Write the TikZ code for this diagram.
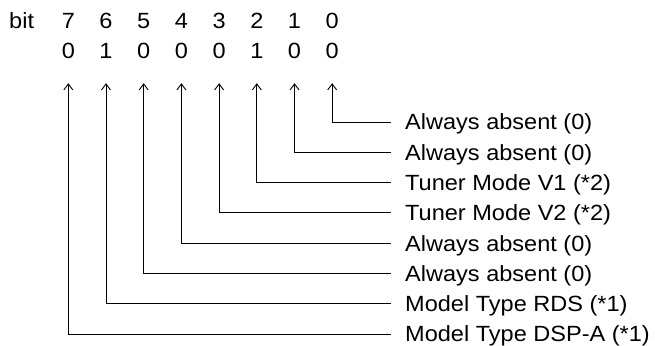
\documentclass[tikz,border=0pt]{standalone}
\usepackage{fontspec}
\setmainfont{Liberation Sans}[FakeStretch=1.07]
\usetikzlibrary{arrows.meta}
\tikzset{
  digit/.style={font=\fontsize{22}{26}\selectfont, inner sep=0pt, anchor=base,
                text height=15.75pt, text depth=0pt},
  lbl/.style={font=\fontsize{22}{26}\selectfont, inner sep=0pt, anchor=west,
              text height=15.75pt, text depth=0pt},
  ptr/.style={-{Straight Barb[length=6pt,width=9pt]}, line width=0.9pt,
              shorten <=14pt, shorten >=24.1pt},
}
\begin{document}
\begin{tikzpicture}[x=1pt,y=-1pt]
\useasboundingbox (0,0) rectangle (655,345);
\node[digit,anchor=base west] (bit) at (9,28.9) {bit};
\foreach \i/\val in {7/0,6/1,5/0,4/0,3/0,2/1,1/0,0/0}{
  \node[digit] (b\i) at ({68.3+37.7*(7-\i)},28.9) {\i};
  \node[digit] (v\i) at ({68.3+37.7*(7-\i)},58.9) {\val};
}
\foreach \i/\txt in {0/Always absent (0),1/Always absent (0),2/Tuner Mode V1 (*2),
    3/Tuner Mode V2 (*2),4/Always absent (0),5/Always absent (0),
    6/Model Type RDS (*1),7/Model Type DSP-A (*1)}{
  \node[lbl] (l\i) at (405,{122+30.3*\i}) {\txt};
  \draw[ptr] (l\i) -| (v\i);
}
\end{tikzpicture}
\end{document}
